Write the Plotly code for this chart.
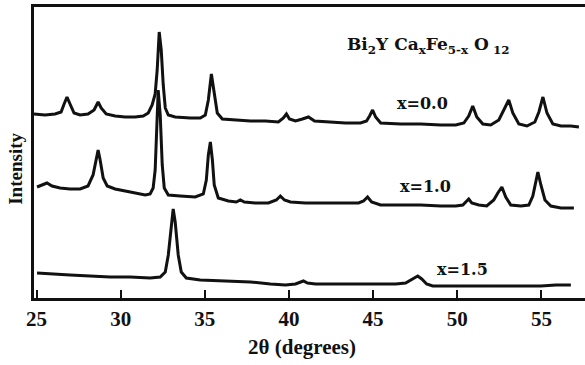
import plotly.graph_objects as go

# 2-theta (degrees) and intensity (arbitrary units, stacked as drawn)
theta_x00 = [24.85, 25.50, 26.10, 26.46, 26.64, 26.81, 26.99, 27.23, 27.59, 28.06,
             28.42, 28.66, 28.84, 29.14, 29.67, 30.27, 30.86, 31.34, 31.64, 31.87,
             32.05, 32.17, 32.29, 32.41, 32.53, 32.65, 32.83, 33.24, 34.14, 34.73,
             35.03, 35.21, 35.39, 35.56, 35.74, 36.04, 36.81, 37.71, 38.60, 39.37,
             39.67, 39.85, 40.03, 40.39, 40.80, 41.16, 41.52, 42.47, 43.36, 44.25,
             44.61, 44.79, 44.97, 45.15, 45.45, 46.64, 47.83, 49.02, 49.91, 50.39,
             50.68, 50.92, 51.16, 51.52, 51.99, 52.47, 52.77, 53.06, 53.30, 53.66,
             54.14, 54.61, 54.85, 55.09, 55.33, 55.68, 56.16, 56.75, 57.23]
int_x00 = [184, 183, 184, 186, 194, 201, 194, 185, 183, 184,
           188, 196, 190, 184, 182, 181, 181, 182, 185, 193,
           204, 228, 266, 248, 213, 190, 183, 181, 180, 180,
           183, 198, 224, 203, 185, 179, 178, 177, 177, 176,
           180, 184, 179, 177, 179, 181, 177, 176, 175, 175,
           177, 182, 188, 181, 175, 174, 174, 173, 173, 175,
           182, 192, 181, 174, 173, 178, 188, 198, 185, 174,
           172, 176, 186, 201, 185, 174, 172, 172, 171]

theta_x10 = [25.03, 25.33, 25.62, 25.92, 26.40, 26.99, 27.59, 28.06, 28.36, 28.54,
             28.66, 28.78, 28.96, 29.20, 29.67, 30.27, 30.86, 31.46, 31.75, 31.93,
             32.05, 32.17, 32.23, 32.35, 32.47, 32.59, 32.83, 33.54, 34.43, 34.91,
             35.09, 35.21, 35.33, 35.45, 35.56, 35.80, 36.40, 36.87, 37.11, 37.35,
             38.00, 38.78, 39.25, 39.49, 39.73, 40.09, 40.98, 41.87, 43.06, 44.14,
             44.43, 44.67, 44.91, 45.44, 46.63, 47.83, 49.02, 49.91, 50.33, 50.50,
             50.68, 50.86, 51.28, 51.75, 52.17, 52.41, 52.65, 52.88, 53.18, 53.78,
             54.25, 54.49, 54.67, 54.79, 54.97, 55.21, 55.56, 56.16, 56.93]
int_x10 = [111, 113, 115, 112, 110, 109, 109, 112, 123, 138,
           148, 138, 120, 112, 109, 107, 105, 103, 104, 110,
           128, 178, 208, 183, 133, 110, 103, 102, 101, 104,
           118, 143, 156, 138, 113, 100, 97, 96, 98, 96,
           95, 95, 98, 102, 98, 96, 95, 95, 95, 95,
           97, 101, 96, 93, 93, 93, 92, 92, 93, 96,
           99, 95, 93, 92, 98, 105, 111, 101, 93, 92,
           93, 102, 116, 126, 113, 98, 92, 90, 90]

theta_x15 = [25.03, 25.80, 26.99, 28.18, 29.37, 30.56, 31.75, 32.35, 32.65, 32.83,
             33.00, 33.12, 33.24, 33.42, 33.60, 33.90, 34.73, 36.22, 37.71, 38.90,
             39.79, 40.39, 40.68, 40.86, 41.10, 41.58, 43.06, 44.85, 46.34, 46.93,
             47.23, 47.47, 47.65, 47.89, 48.18, 48.54, 49.61, 51.40, 53.18, 54.97,
             55.86, 56.75]
int_x15 = [25, 24, 23, 22, 21, 21, 20, 21, 26, 43,
           73, 89, 76, 43, 26, 20, 18, 17, 16, 14,
           13, 14, 16, 17, 15, 14, 14, 14, 14, 15,
           18, 21, 22, 19, 14, 12, 12, 12, 12, 12,
           13, 13]

series_labels = ["x=0.0", "x=1.0", "x=1.5"]
label_theta = [47.96, 48.14, 50.34]
label_int = [195, 112, 29]

tick_vals = [25, 30, 35, 40, 45, 50, 55]
tick_text = ["25", "30", "35", "40", "45", "50", "55"]

formula = "Bi<sub>2</sub>Y Ca<sub>x</sub>Fe<sub>5-x</sub> O<sub> 12</sub>"

fig = go.Figure()
for xs, ys in [(theta_x00, int_x00), (theta_x10, int_x10), (theta_x15, int_x15)]:
    fig.add_trace(go.Scatter(x=xs, y=ys, mode="lines",
                             line=dict(color="#111111", width=3),
                             showlegend=False, hoverinfo="skip"))

label_font = dict(family="DejaVu Serif", size=16, color="#111111", weight="bold")
for t, xv, yv in zip(series_labels, label_theta, label_int):
    fig.add_annotation(x=xv, y=yv, text=t, showarrow=False, font=label_font,
                       xanchor="center", yanchor="middle")

fig.add_annotation(x=48.29, y=253, text=formula, showarrow=False,
                   font=dict(family="DejaVu Serif", size=17, color="#111111", weight="bold"),
                   xanchor="center", yanchor="middle")

# axis titles
fig.add_annotation(xref="paper", yref="paper", x=-0.034, y=0.445, text="Intensity",
                   textangle=-90, showarrow=False, xanchor="center", yanchor="middle",
                   font=dict(family="Liberation Serif", size=19, color="#111111", weight="bold"))
fig.add_annotation(xref="paper", yref="paper", x=0.486, y=-0.168, text="2θ (degrees)",
                   showarrow=False, xanchor="center", yanchor="middle",
                   font=dict(family="Liberation Serif", size=21, color="#111111", weight="bold"))

fig.update_layout(
    width=585, height=365,
    margin=dict(l=34, r=0, t=7, b=67),
    paper_bgcolor="white", plot_bgcolor="white",
    xaxis=dict(range=[24.85, 57.59], tickvals=tick_vals, ticktext=tick_text,
               ticks="inside", ticklen=8, tickwidth=2, tickcolor="#111111",
               showline=True, linewidth=3, linecolor="#111111", mirror=True,
               showgrid=False, zeroline=False,
               tickfont=dict(family="Liberation Serif", size=21, color="#111111", weight="bold")),
    yaxis=dict(range=[0, 291], showticklabels=False, ticks="",
               showline=True, linewidth=3, linecolor="#111111", mirror=False,
               showgrid=False, zeroline=False),
)

fig.write_html("out.html")
